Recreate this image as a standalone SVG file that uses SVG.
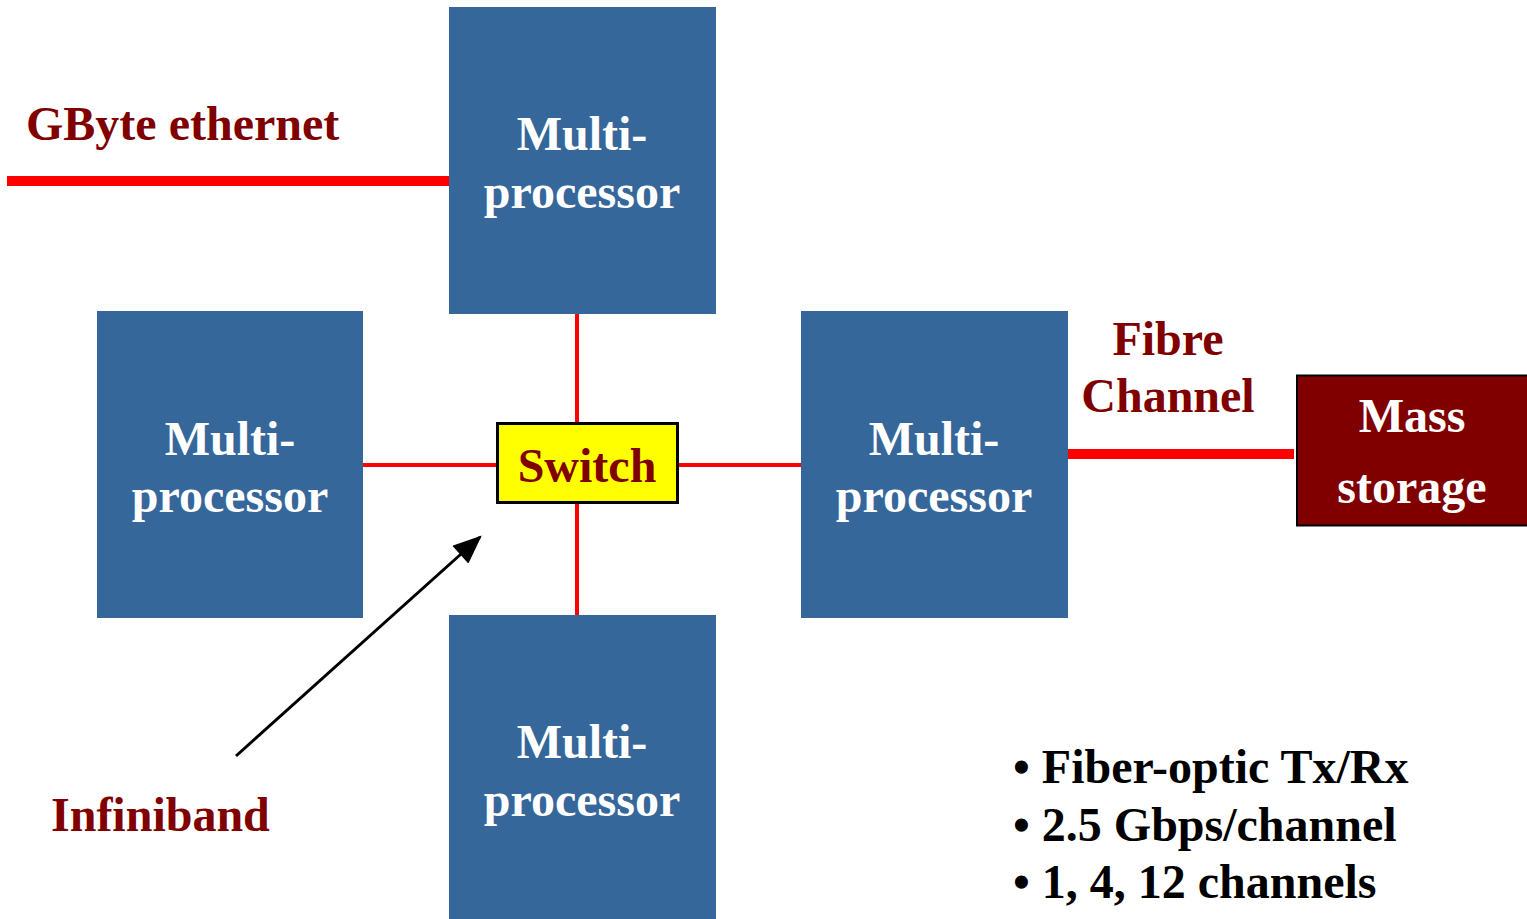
<svg xmlns="http://www.w3.org/2000/svg" width="1527" height="919" viewBox="0 0 1527 919">
<style>
.mp{fill:#35679a}
.t{font-family:"Liberation Serif","Times New Roman",serif;font-weight:bold;font-size:48px}
.w{fill:#ffffff}
.r{fill:#800000}
.k{fill:#000000}
.lnk{stroke:#ff0000;fill:none}
</style>
<defs>
<marker id="ah" viewBox="0 0 10 10" refX="9" refY="5" markerWidth="10" markerHeight="10" markerUnits="userSpaceOnUse" orient="auto">
<path d="M0,0 L10,5 L0,10 z" fill="#000"/>
</marker>
<marker id="ah2" viewBox="0 0 12 10" refX="11" refY="5" markerWidth="30" markerHeight="24" markerUnits="userSpaceOnUse" orient="auto">
<path d="M0,0 L12,5 L0,10 z" fill="#000"/>
</marker>
</defs>
<rect width="1527" height="919" fill="#fff"/>
<g id="connectors">
<line class="lnk" x1="7" y1="181" x2="449" y2="181" stroke-width="10"/>
<line class="lnk" x1="1068" y1="454" x2="1294" y2="454" stroke-width="10"/>
<line class="lnk" x1="577" y1="314" x2="577" y2="422" stroke-width="4"/>
<line class="lnk" x1="577" y1="504" x2="577" y2="615" stroke-width="4"/>
<line class="lnk" x1="363" y1="465" x2="496" y2="465" stroke-width="4"/>
<line class="lnk" x1="679" y1="465" x2="801" y2="465" stroke-width="4"/>
<line x1="236" y1="756" x2="480" y2="537" stroke="#000" stroke-width="3" marker-end="url(#ah2)"/>
</g>
<g id="mp-top">
<rect class="mp" x="449" y="7" width="267" height="307"/>
<text class="t w" x="582" y="150" text-anchor="middle">Multi-</text>
<text class="t w" x="582" y="208" text-anchor="middle">processor</text>
</g>
<g id="mp-left">
<rect class="mp" x="97" y="311" width="266" height="307"/>
<text class="t w" x="230" y="455" text-anchor="middle">Multi-</text>
<text class="t w" x="230" y="512" text-anchor="middle">processor</text>
</g>
<g id="mp-right">
<rect class="mp" x="801" y="311" width="267" height="307"/>
<text class="t w" x="934" y="455" text-anchor="middle">Multi-</text>
<text class="t w" x="934" y="512" text-anchor="middle">processor</text>
</g>
<g id="mp-bottom">
<rect class="mp" x="449" y="615" width="267" height="310"/>
<text class="t w" x="582" y="758" text-anchor="middle">Multi-</text>
<text class="t w" x="582" y="816" text-anchor="middle">processor</text>
</g>
<g id="switch">
<rect x="497.5" y="423.5" width="180" height="79" fill="#ffff00" stroke="#000" stroke-width="3"/>
<text class="t r" x="587" y="482" text-anchor="middle">Switch</text>
</g>
<g id="mass-storage">
<rect x="1297" y="375.5" width="235" height="150" fill="#800000" stroke="#000" stroke-width="2"/>
<text class="t w" x="1412" y="432" text-anchor="middle">Mass</text>
<text class="t w" x="1412" y="503" text-anchor="middle">storage</text>
</g>
<g id="labels">
<text class="t r" x="26" y="140">GByte ethernet</text>
<text class="t r" x="1168" y="355" text-anchor="middle">Fibre</text>
<text class="t r" x="1168" y="412" text-anchor="middle">Channel</text>
<text class="t r" x="51" y="831">Infiniband</text>
<text class="t k" x="1013" y="783">• Fiber-optic Tx/Rx</text>
<text class="t k" x="1013" y="841">• 2.5 Gbps/channel</text>
<text class="t k" x="1013" y="898">• 1, 4, 12 channels</text>
</g>
</svg>
